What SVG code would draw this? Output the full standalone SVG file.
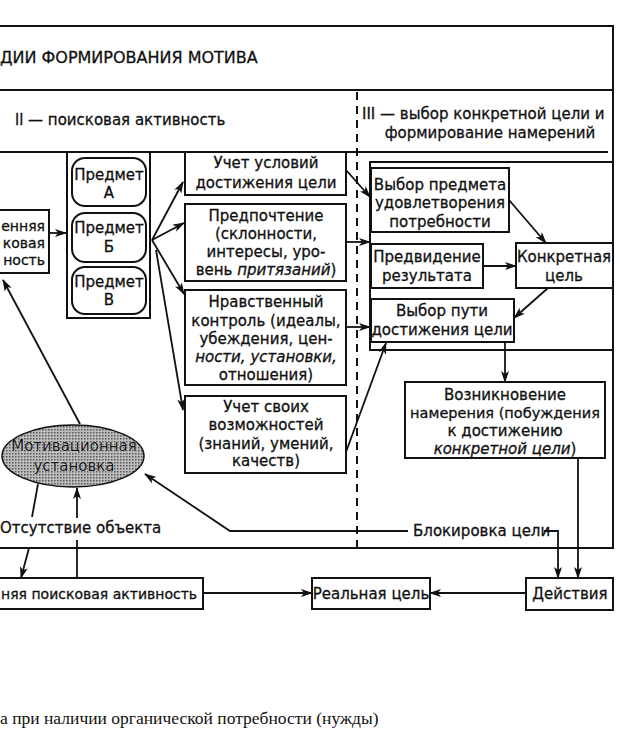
<svg xmlns="http://www.w3.org/2000/svg" width="620" height="738" viewBox="0 0 620 738">
<style>
text{font-family:"DejaVu Sans","Liberation Sans",sans-serif;font-size:15px;fill:#111;stroke:#111;stroke-width:0.3}
.c{text-anchor:middle}
.e{text-anchor:end}
.i{font-style:italic}
.box{fill:#fff;stroke:#111;stroke-width:2}
.frame{fill:none;stroke:#111;stroke-width:2}
.ln{fill:none;stroke:#111;stroke-width:1.8}
.ar{fill:none;stroke:#111;stroke-width:1.8;marker-end:url(#ah)}
.serif{font-family:"Liberation Serif","DejaVu Serif",serif;font-size:17.5px;stroke:none}
</style>
<defs>
<marker id="ah" markerUnits="userSpaceOnUse" markerWidth="12" markerHeight="8" refX="11" refY="4" orient="auto">
<path d="M0,0 L12,4 L0,8 L3,4 Z" fill="#111"/>
</marker>
<pattern id="dots" width="3" height="3" patternUnits="userSpaceOnUse">
<rect width="3" height="3" fill="#bdbdbd"/>
<rect x="0" y="0" width="1.5" height="1.5" fill="#555"/>
</pattern>
</defs>
<rect width="620" height="738" fill="#fff"/>

<g id="frame">
<path class="frame" d="M-5,26 H613 V548 H-5"/>
<line class="frame" x1="-5" y1="90" x2="613" y2="90"/>
<line class="frame" x1="-5" y1="152" x2="608" y2="152"/>
<line x1="357" y1="92" x2="357" y2="548" stroke="#111" stroke-width="2" stroke-dasharray="8,6"/>
<text x="0" y="63" style="font-size:16px">ДИИ ФОРМИРОВАНИЯ МОТИВА</text>
<text x="15" y="125">ll — поисковая активность</text>
<text x="362" y="119">III — выбор конкретной цели и</text>
<text x="490" y="138" class="c">формирование намерений</text>
</g>

<g id="inner-left">
<rect class="box" x="-5" y="210" width="54" height="63"/>
<text x="45" y="231" class="e" style="font-size:14px">енняя</text>
<text x="45" y="248" class="e" style="font-size:14px">ковая</text>
<text x="45" y="265" class="e" style="font-size:14px">ность</text>
</g>

<g id="predmet-column">
<rect class="box" x="67" y="152" width="83" height="166"/>
<rect class="box" x="72" y="158" width="74" height="48" rx="13"/>
<text x="109" y="180" class="c">Предмет</text>
<text x="109" y="198" class="c">А</text>
<rect class="box" x="72" y="213" width="74" height="49" rx="13"/>
<text x="109" y="233" class="c">Предмет</text>
<text x="109" y="252" class="c">Б</text>
<rect class="box" x="72" y="267" width="74" height="47" rx="13"/>
<text x="109" y="287" class="c">Предмет</text>
<text x="109" y="305" class="c">В</text>
</g>

<g id="uslovia">
<rect class="box" x="185" y="152" width="161" height="43"/>
<text x="266" y="168" class="c">Учет условий</text>
<text x="266" y="188" class="c">достижения цели</text>
</g>

<g id="predpochtenie">
<rect class="box" x="185" y="204" width="161" height="77"/>
<text x="266" y="221" class="c">Предпочтение</text>
<text x="266" y="239" class="c">(склонности,</text>
<text x="266" y="257" class="c">интересы, уро-</text>
<text x="266" y="275" class="c">вень <tspan class="i">притязаний</tspan>)</text>
</g>

<g id="nravstvenny">
<rect class="box" x="185" y="290" width="161" height="95"/>
<text x="266" y="307" class="c">Нравственный</text>
<text x="266" y="326" class="c">контроль (идеалы,</text>
<text x="266" y="344" class="c">убеждения, цен-</text>
<text x="266" y="362" class="c i">ности, установки,</text>
<text x="266" y="380" class="c">отношения)</text>
</g>

<g id="vozmozhnosti">
<rect class="box" x="185" y="396" width="161" height="77"/>
<text x="266" y="412" class="c">Учет своих</text>
<text x="266" y="430" class="c">возможностей</text>
<text x="266" y="449" class="c">(знаний, умений,</text>
<text x="266" y="466" class="c">качеств)</text>
</g>

<g id="group-III">
<rect class="frame" x="370" y="162" width="243" height="188"/>
</g>

<g id="vybor-predmeta">
<rect class="box" x="371" y="168" width="138" height="64"/>
<text x="440" y="190" class="c">Выбор предмета</text>
<text x="440" y="208" class="c">удовлетворения</text>
<text x="440" y="227" class="c">потребности</text>
</g>

<g id="predvidenie">
<rect class="box" x="371" y="244" width="112" height="44"/>
<text x="427" y="262" class="c">Предвидение</text>
<text x="427" y="281" class="c">результата</text>
</g>

<g id="konkretnaya">
<rect class="box" x="516" y="243" width="97" height="45"/>
<text x="564" y="262" class="c">Конкретная</text>
<text x="564" y="281" class="c">цель</text>
</g>

<g id="vybor-puti">
<rect class="box" x="371" y="299" width="143" height="43"/>
<text x="442" y="316" class="c">Выбор пути</text>
<text x="442" y="335" class="c">достижения цели</text>
</g>

<g id="vozniknovenie">
<rect class="box" x="405" y="382" width="200" height="76"/>
<text x="505" y="400" class="c">Возникновение</text>
<text x="505" y="418" class="c" style="font-size:14.5px">намерения (побуждения</text>
<text x="505" y="436" class="c">к достижению</text>
<text x="505" y="454" class="c i">конкретной цели<tspan style="font-style:normal">)</tspan></text>
</g>

<g id="motiv-ustanovka">
<ellipse cx="73" cy="456" rx="71" ry="31" fill="url(#dots)" stroke="#111" stroke-width="1.5"/>
<text x="74" y="451" class="c" style="stroke:#eee;stroke-width:0.6;paint-order:stroke">Мотивационная</text>
<text x="74" y="471" class="c" style="stroke:#eee;stroke-width:0.6;paint-order:stroke">установка</text>
</g>

<g id="labels">
<text x="0" y="533">Отсутствие объекта</text>
<text x="413" y="536">Блокировка цели</text>
</g>

<g id="vneshnyaya">
<rect class="box" x="-5" y="578" width="208" height="31"/>
<text x="1" y="599" style="font-size:14px">няя поисковая активность</text>
</g>

<g id="realnaya">
<rect class="box" x="312" y="578" width="118" height="31"/>
<text x="371" y="599" class="c">Реальная цель</text>
</g>

<g id="deystviya">
<rect class="box" x="526" y="578" width="87" height="32"/>
<text x="570" y="599" class="c">Действия</text>
</g>

<g id="connectors">
<line class="ar" x1="49" y1="233" x2="66" y2="233"/>
<line class="ar" x1="152" y1="240" x2="183" y2="182"/>
<line class="ar" x1="152" y1="240" x2="184" y2="223"/>
<line class="ar" x1="152" y1="240" x2="184" y2="294"/>
<line class="ar" x1="156" y1="250" x2="183" y2="410"/>
<line class="ar" x1="346" y1="170" x2="370" y2="197"/>
<line class="ar" x1="346" y1="242" x2="370" y2="242"/>
<line class="ar" x1="346" y1="327" x2="370" y2="327"/>
<line class="ar" x1="346" y1="452" x2="386" y2="343"/>
<line class="ar" x1="509" y1="200" x2="546" y2="243"/>
<line class="ar" x1="483" y1="266" x2="516" y2="266"/>
<line class="ar" x1="548" y1="288" x2="514" y2="318"/>
<line class="ar" x1="505" y1="342" x2="505" y2="382"/>
<line class="ar" x1="578" y1="458" x2="578" y2="578"/>
<polyline class="ar" points="544,531 558,531 558,578"/>
<polyline class="ar" points="408,531 230,531 145,474"/>
<line class="ar" x1="80" y1="424" x2="3" y2="280"/>
<line class="ln" x1="38" y1="484" x2="32" y2="517"/>
<line class="ar" x1="29" y1="548" x2="21" y2="578"/>
<line class="ln" x1="77" y1="578" x2="77" y2="540"/>
<line class="ar" x1="77" y1="518" x2="77" y2="488"/>
<line class="ar" x1="203" y1="593" x2="312" y2="593"/>
<line class="ar" x1="526" y1="593" x2="430" y2="593"/>
</g>

<text x="0" y="724" class="serif">а при наличии органической потребности (нужды)</text>
</svg>
